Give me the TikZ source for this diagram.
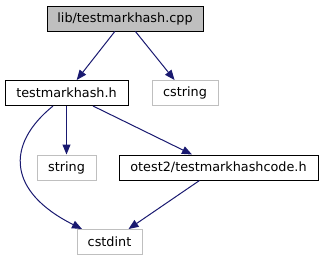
\documentclass[tikz,border=0pt]{standalone}
\usepackage{fontspec}
\setmainfont{DejaVu Sans}
\usetikzlibrary{arrows.meta}

\definecolor{edgeblue}{HTML}{191970}
\definecolor{boxgray}{HTML}{BFBFBF}

\tikzset{
    file/.style={draw=black, line width=0.75pt, inner sep=0pt, minimum height=25*0.75pt,
        font=\fontsize{9.6}{11}\selectfont},
    sysfile/.style={file, draw=boxgray},
    edge/.style={draw=edgeblue, line width=0.75pt, -{Triangle[length=7.5pt,width=6pt]}}
}

\begin{document}
\begin{tikzpicture}[x=0.75pt, y=-0.75pt]
            \useasboundingbox (0,0) rectangle (323,261);

            % files
            \node[file, fill=boxgray, minimum width=156*0.75pt] (cpp) at (125,18.5) {lib/testmarkhash.cpp};
            \node[file, minimum width=123*0.75pt] (hdr) at (66.5,93) {testmarkhash.h};
            \node[sysfile, minimum width=66*0.75pt] (cstring) at (185,93) {cstring};
            \node[sysfile, minimum width=59*0.75pt] (string) at (66.5,167.5) {string};
            \node[file, minimum width=199*0.75pt] (codeh) at (218.5,167.5) {otest2/testmarkhashcode.h};
            \node[sysfile, minimum width=65*0.75pt] (cstdint) at (109.5,242) {cstdint};

            % includes
            \draw[edge] (cpp) -- (hdr);
            \draw[edge] (cpp) -- (cstring);
            \draw[edge] (hdr) -- (string);
            \draw[edge] (hdr) -- (codeh);
            \draw[edge] ([xshift=-13.5*0.75pt]hdr.south) .. controls (5,145) and (8,192) .. ([xshift=-27.5*0.75pt]cstdint.north);
            \draw[edge] (codeh) -- (cstdint);
        \end{tikzpicture}
\end{document}
